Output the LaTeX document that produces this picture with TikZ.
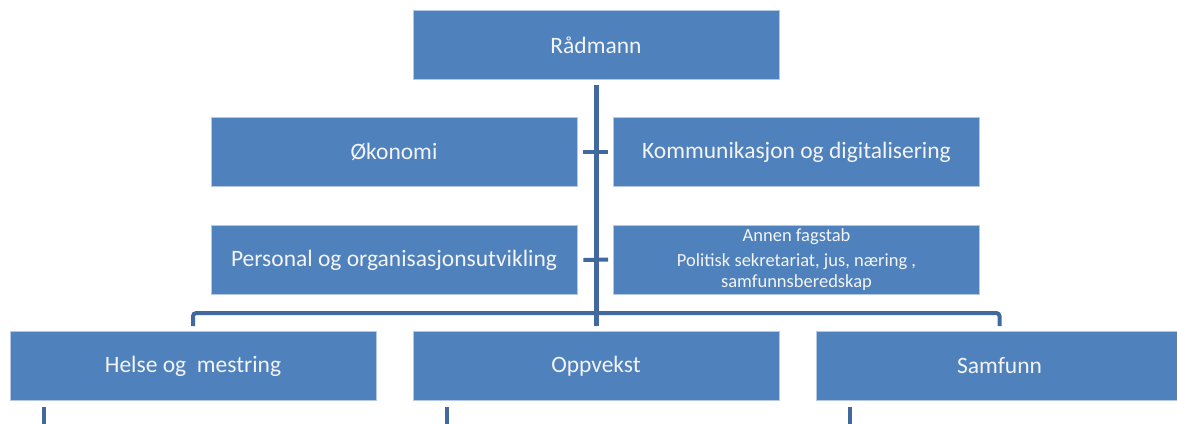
\documentclass[tikz,border=0pt]{standalone}
\usepackage{fontspec}
\setmainfont{Carlito}
\definecolor{boxblue}{HTML}{4F81BD}
\definecolor{edgeblue}{HTML}{B3C8E3}
\definecolor{lineblue}{HTML}{41699D}
\definecolor{txtwhite}{HTML}{F4F4F4}
\begin{document}
\begin{tikzpicture}[x=1pt,y=-1pt,
  unitbox/.style={draw=edgeblue, line width=0.8pt, fill=boxblue,
    minimum width=366pt, minimum height=69pt, inner sep=0pt,
    text=txtwhite, font=\fontsize{23.5}{27}\selectfont, align=center},
  conn/.style={draw=lineblue, line width=5pt},
  stub/.style={draw=lineblue, line width=4pt}]
\useasboundingbox (0,0) rectangle (1177,423);
\begin{scope}
\clip (0,0) rectangle (1177,423);
\node[unitbox] (raad) at (596,45) {Rådmann};
\node[unitbox] (okon) at (394,152) {Økonomi};
\node[unitbox] (komm) at (796.5,152) {Kommunikasjon og digitalisering};
\node[unitbox] (pers) at (394,260) {Personal og organisasjonsutvikling};
\node[unitbox, font=\fontsize{18.5}{20.5}\selectfont] (annen) at (796.5,259.5)
  {Annen fagstab\\[5pt]Politisk sekretariat, jus, næring ,\\samfunnsberedskap};
\node[unitbox] (helse) at (193,366) {Helse og \ mestring};
\node[unitbox] (opp) at (596,366) {Oppvekst};
\node[unitbox] (samf) at (999.5,366) {Samfunn};

% trunk
\draw[conn] ([yshift=-5pt]raad.south) -- ([yshift=5pt]opp.north);
% ticks to staff boxes
\draw[stub] ([xshift=6pt]okon.east) -- ([xshift=-5pt]komm.west);
\draw[stub] ([xshift=6pt]pers.east) -- ([xshift=-5pt]annen.west);
% bus
\draw[stub, rounded corners=3pt] ([yshift=5pt]helse.north) -- ([yshift=18pt]helse.north)
  -- ([yshift=18pt]samf.north) -- ([yshift=5pt]samf.north);
% bottom stubs
\coordinate (hEnd) at ([xshift=34pt,yshift=-30pt]helse.south west);
\coordinate (oEnd) at ([xshift=34pt,yshift=-30pt]opp.south west);
\coordinate (sEnd) at ([xshift=34pt,yshift=-30pt]samf.south west);
\draw[stub] ([xshift=34pt,yshift=-6pt]helse.south west) -- (hEnd);
\draw[stub] ([xshift=34pt,yshift=-6pt]opp.south west) -- (oEnd);
\draw[stub] ([xshift=34pt,yshift=-6pt]samf.south west) -- (sEnd);
\end{scope}
\end{tikzpicture}
\end{document}
